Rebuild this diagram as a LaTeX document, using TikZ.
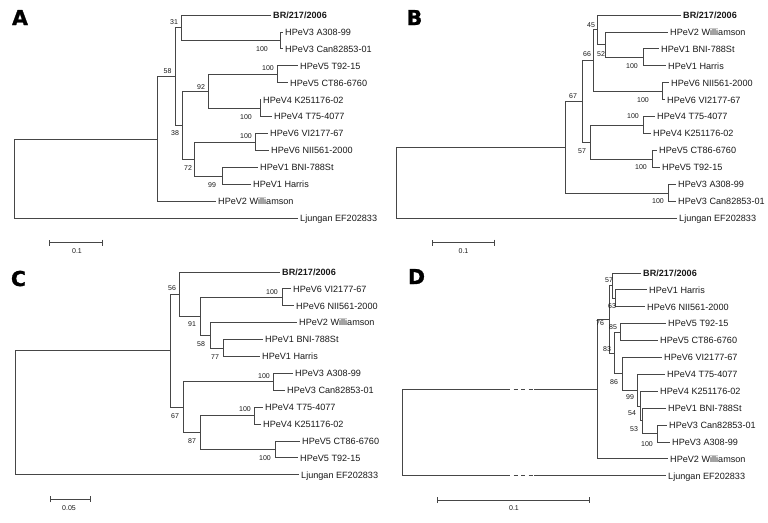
\documentclass[tikz,border=0pt]{standalone}
\usepackage{fontspec}
\setmainfont{Liberation Sans}
\newfontfamily\pfont{DejaVu Sans}[BoldFeatures={FakeBold=1.2}]
\usetikzlibrary{arrows.meta}
\definecolor{lc}{RGB}{70,70,70}
\definecolor{tc}{RGB}{25,25,25}
\newcommand\tipnode[4]{\coordinate (#1) at ({#2-2.5},#3); \node[tiplab] (#1t) at (#2,#3) {#4};}
\begin{document}
\begin{tikzpicture}[x=1pt,y=-1pt,
  br/.style={draw=lc,line width=0.9pt},
  tiplab/.style={anchor=west,inner sep=0pt,text=tc,font=\fontsize{9.1}{10}\selectfont,text height=6.5pt,text depth=0pt},
  bslab/.style={inner sep=0pt,text=tc,font=\fontsize{7}{8}\selectfont,text height=5pt,text depth=0pt},
  plab/.style={inner sep=0pt,text=black,font=\pfont\bfseries\fontsize{20.5}{21}\selectfont,text height=15pt,text depth=0pt},
  sbar/.style={draw=lc,line width=0.9pt,{Bar[width=6pt]}-{Bar[width=6pt]}},
  gapd/.style={draw=lc,line width=0.9pt,dash pattern=on 4pt off 3.5pt}]
\useasboundingbox (0,0) rectangle (768,522);
\fill[white] (0,0) rectangle (768,522);

% ================= Panel A =================
\node[plab] (pA) at (20,17.5) {A};
\tipnode{aBR}{273}{15}{\textbf{BR/217/2006}}
\tipnode{aA308}{285}{32}{HPeV3 A308-99}
\tipnode{aCan}{285}{48.9}{HPeV3 Can82853-01}
\tipnode{aT92}{300}{65.9}{HPeV5 T92-15}
\tipnode{aCT86}{290}{82.8}{HPeV5 CT86-6760}
\tipnode{aK25}{263}{99.8}{HPeV4 K251176-02}
\tipnode{aT75}{274}{116.7}{HPeV4 T75-4077}
\tipnode{aVI}{270}{133.7}{HPeV6 VI2177-67}
\tipnode{aNII}{271}{150.6}{HPeV6 NII561-2000}
\tipnode{aBNI}{260}{167.6}{HPeV1 BNI-788St}
\tipnode{aHar}{253}{184.5}{HPeV1 Harris}
\tipnode{aWil}{218}{201.5}{HPeV2 Williamson}
\tipnode{aLj}{300}{218.4}{Ljungan EF202833}
\coordinate (a3) at (280,40.45);
\coordinate (a5) at (277,74.35);
\coordinate (a4) at (260,108.25);
\coordinate (a6) at (255,142.15);
\coordinate (a1) at (222,176.05);
\coordinate (a92) at (208,91.3);
\coordinate (a72) at (194,159.1);
\coordinate (a38) at (182,125.2);
\coordinate (a31) at (181,27.7);
\coordinate (a58) at (175,76.45);
\coordinate (aI) at (157,139);
\coordinate (aR) at (14,178.7);
\draw[br] (aR) |- (aI); \draw[br] (aR) |- (aLj);
\draw[br] (aI) |- (a58); \draw[br] (aI) |- (aWil);
\draw[br] (a58) |- (a31); \draw[br] (a58) |- (a38);
\draw[br] (a31) |- (aBR); \draw[br] (a31) |- (a3);
\draw[br] (a3) |- (aA308); \draw[br] (a3) |- (aCan);
\draw[br] (a38) |- (a92); \draw[br] (a38) |- (a72);
\draw[br] (a92) |- (a5); \draw[br] (a92) |- (a4);
\draw[br] (a5) |- (aT92); \draw[br] (a5) |- (aCT86);
\draw[br] (a4) |- (aK25); \draw[br] (a4) |- (aT75);
\draw[br] (a72) |- (a6); \draw[br] (a72) |- (a1);
\draw[br] (a6) |- (aVI); \draw[br] (a6) |- (aNII);
\draw[br] (a1) |- (aBNI); \draw[br] (a1) |- (aHar);
\node[bslab] (ab31) at (174,22) {31};
\node[bslab] (ab58) at (167.5,71) {58};
\node[bslab] (ab38) at (175,133) {38};
\node[bslab] (ab72) at (188,168) {72};
\node[bslab] (ab92) at (201,87) {92};
\node[bslab] (ab3) at (262,49) {100};
\node[bslab] (ab5) at (268,68) {100};
\node[bslab] (ab4) at (246,117) {100};
\node[bslab] (ab6) at (246,136) {100};
\node[bslab] (ab1) at (212,184.5) {99};
\coordinate (sA1) at (49,242.7); \coordinate (sA2) at (103,242.7);
\draw[sbar] (sA1) -- (sA2);
\node[bslab] (sAl) at (77,250.5) {0.1};

% ================= Panel B =================
\node[plab] (pB) at (414.5,17.5) {B};
\tipnode{bBR}{683}{15}{\textbf{BR/217/2006}}
\tipnode{bWil}{670}{32}{HPeV2 Williamson}
\tipnode{bBNI}{661}{48.9}{HPeV1 BNI-788St}
\tipnode{bHar}{668}{65.9}{HPeV1 Harris}
\tipnode{bNII}{671}{82.8}{HPeV6 NII561-2000}
\tipnode{bVI}{667}{99.8}{HPeV6 VI2177-67}
\tipnode{bT75}{657}{116.7}{HPeV4 T75-4077}
\tipnode{bK25}{653}{133.7}{HPeV4 K251176-02}
\tipnode{bCT86}{659}{150.6}{HPeV5 CT86-6760}
\tipnode{bT92}{662}{167.6}{HPeV5 T92-15}
\tipnode{bA308}{678}{184.5}{HPeV3 A308-99}
\tipnode{bCan}{678}{201.5}{HPeV3 Can82853-01}
\tipnode{bLj}{679}{218.4}{Ljungan EF202833}
\coordinate (b1) at (643,57.4);
\coordinate (b52) at (605,44.7);
\coordinate (b45) at (597,29.85);
\coordinate (b6) at (662,91.3);
\coordinate (b66) at (593,60.6);
\coordinate (b4) at (643,125.2);
\coordinate (b5) at (652,159.1);
\coordinate (b57) at (590,142.15);
\coordinate (b67) at (582,101.4);
\coordinate (b3) at (668,193);
\coordinate (bI) at (565,147.2);
\coordinate (bR) at (396,182.8);
\draw[br] (bR) |- (bI); \draw[br] (bR) |- (bLj);
\draw[br] (bI) |- (b67); \draw[br] (bI) |- (b3);
\draw[br] (b67) |- (b66); \draw[br] (b67) |- (b57);
\draw[br] (b66) |- (b45); \draw[br] (b66) |- (b6);
\draw[br] (b45) |- (bBR); \draw[br] (b45) |- (b52);
\draw[br] (b52) |- (bWil); \draw[br] (b52) |- (b1);
\draw[br] (b1) |- (bBNI); \draw[br] (b1) |- (bHar);
\draw[br] (b6) |- (bNII); \draw[br] (b6) |- (bVI);
\draw[br] (b57) |- (b4); \draw[br] (b57) |- (b5);
\draw[br] (b4) |- (bT75); \draw[br] (b4) |- (bK25);
\draw[br] (b5) |- (bCT86); \draw[br] (b5) |- (bT92);
\draw[br] (b3) |- (bA308); \draw[br] (b3) |- (bCan);
\node[bslab] (bb45) at (591,25) {45};
\node[bslab] (bb66) at (587,54) {66};
\node[bslab] (bb52) at (601,54) {52};
\node[bslab] (bb67) at (573,96) {67};
\node[bslab] (bb1) at (632,66) {100};
\node[bslab] (bb6) at (643,100) {100};
\node[bslab] (bb4) at (633,116) {100};
\node[bslab] (bb57) at (582,151) {57};
\node[bslab] (bb5) at (641,167) {100};
\node[bslab] (bb3) at (658,201) {100};
\coordinate (sB1) at (432,242.7); \coordinate (sB2) at (495,242.7);
\draw[sbar] (sB1) -- (sB2);
\node[bslab] (sBl) at (463.5,250.5) {0.1};

% ================= Panel C =================
\node[plab] (pC) at (18.5,278.5) {C};
\tipnode{cBR}{282}{272}{\textbf{BR/217/2006}}
\tipnode{cVI}{293}{288.9}{HPeV6 VI2177-67}
\tipnode{cNII}{296}{305.8}{HPeV6 NII561-2000}
\tipnode{cWil}{299}{322.7}{HPeV2 Williamson}
\tipnode{cBNI}{265}{339.6}{HPeV1 BNI-788St}
\tipnode{cHar}{262}{356.5}{HPeV1 Harris}
\tipnode{cA308}{295}{373.4}{HPeV3 A308-99}
\tipnode{cCan}{287}{390.3}{HPeV3 Can82853-01}
\tipnode{cT75}{265}{407.2}{HPeV4 T75-4077}
\tipnode{cK25}{263}{424.1}{HPeV4 K251176-02}
\tipnode{cCT86}{302}{441}{HPeV5 CT86-6760}
\tipnode{cT92}{300}{457.9}{HPeV5 T92-15}
\tipnode{cLj}{301}{474.8}{Ljungan EF202833}
\coordinate (c6) at (282,297.35);
\coordinate (c77) at (223,348.05);
\coordinate (c58) at (210,335.4);
\coordinate (c91) at (200,316.4);
\coordinate (c56) at (179,294.2);
\coordinate (c3) at (273,381.85);
\coordinate (c4) at (254,415.65);
\coordinate (c5) at (275,449.45);
\coordinate (c87) at (200,432.55);
\coordinate (c67) at (183,407.2);
\coordinate (cI) at (170,350.7);
\coordinate (cR) at (15,412.75);
\draw[br] (cR) |- (cI); \draw[br] (cR) |- (cLj);
\draw[br] (cI) |- (c56); \draw[br] (cI) |- (c67);
\draw[br] (c56) |- (cBR); \draw[br] (c56) |- (c91);
\draw[br] (c91) |- (c6); \draw[br] (c91) |- (c58);
\draw[br] (c6) |- (cVI); \draw[br] (c6) |- (cNII);
\draw[br] (c58) |- (cWil); \draw[br] (c58) |- (c77);
\draw[br] (c77) |- (cBNI); \draw[br] (c77) |- (cHar);
\draw[br] (c67) |- (c3); \draw[br] (c67) |- (c87);
\draw[br] (c3) |- (cA308); \draw[br] (c3) |- (cCan);
\draw[br] (c87) |- (c4); \draw[br] (c87) |- (c5);
\draw[br] (c4) |- (cT75); \draw[br] (c4) |- (cK25);
\draw[br] (c5) |- (cCT86); \draw[br] (c5) |- (cT92);
\node[bslab] (cb56) at (172,288) {56};
\node[bslab] (cb91) at (192,324) {91};
\node[bslab] (cb6) at (272,292) {100};
\node[bslab] (cb58) at (201,344) {58};
\node[bslab] (cb77) at (215,357) {77};
\node[bslab] (cb3) at (264,376) {100};
\node[bslab] (cb67) at (175,416) {67};
\node[bslab] (cb87) at (192,441) {87};
\node[bslab] (cb4) at (245,409) {100};
\node[bslab] (cb5) at (265,458) {100};
\coordinate (sC1) at (50,499.3); \coordinate (sC2) at (91,499.3);
\draw[sbar] (sC1) -- (sC2);
\node[bslab] (sCl) at (69,507.5) {0.05};

% ================= Panel D =================
\node[plab] (pD) at (416.5,276.5) {D};
\tipnode{dBR}{643}{273}{\textbf{BR/217/2006}}
\tipnode{dHar}{649}{289.9}{HPeV1 Harris}
\tipnode{dNII}{647}{306.8}{HPeV6 NII561-2000}
\tipnode{dT92}{668}{323.7}{HPeV5 T92-15}
\tipnode{dCT86}{660}{340.6}{HPeV5 CT86-6760}
\tipnode{dVI}{664}{357.5}{HPeV6 VI2177-67}
\tipnode{dT75}{667}{374.4}{HPeV4 T75-4077}
\tipnode{dK25}{660}{391.3}{HPeV4 K251176-02}
\tipnode{dBNI}{668}{408.2}{HPeV1 BNI-788St}
\tipnode{dCan}{669}{425.1}{HPeV3 Can82853-01}
\tipnode{dA308}{672}{442}{HPeV3 A308-99}
\tipnode{dWil}{670}{458.9}{HPeV2 Williamson}
\tipnode{dLj}{668}{475.8}{Ljungan EF202833}
\coordinate (d63) at (615,298.35);
\coordinate (d57) at (612,285.7);
\coordinate (d85) at (620,332.15);
\coordinate (d3) at (657,433.55);
\coordinate (d53) at (642,420.9);
\coordinate (d54) at (640,406.1);
\coordinate (d99) at (637,390.25);
\coordinate (d86) at (622,373.9);
\coordinate (d83) at (614,353);
\coordinate (d76) at (609,319.35);
\coordinate (dI) at (597,389.1);
\coordinate (dR) at (402,432.45);
\coordinate (dg1) at (506,389.1); \coordinate (dg2) at (534,389.1);
\coordinate (dg3) at (506,475.8); \coordinate (dg4) at (534,475.8);
\draw[br] (dR) |- (dg1); \draw[gapd] (dg1) -- (dg2); \draw[br] (dg2) -- (dI);
\draw[br] (dR) |- (dg3); \draw[gapd] (dg3) -- (dg4); \draw[br] (dg4) -- (dLj);
\draw[br] (dI) |- (d76); \draw[br] (dI) |- (dWil);
\draw[br] (d76) |- (d57); \draw[br] (d76) |- (d83);
\draw[br] (d57) |- (dBR); \draw[br] (d57) |- (d63);
\draw[br] (d63) |- (dHar); \draw[br] (d63) |- (dNII);
\draw[br] (d83) |- (d85); \draw[br] (d83) |- (d86);
\draw[br] (d85) |- (dT92); \draw[br] (d85) |- (dCT86);
\draw[br] (d86) |- (dVI); \draw[br] (d86) |- (d99);
\draw[br] (d99) |- (dT75); \draw[br] (d99) |- (d54);
\draw[br] (d54) |- (dK25); \draw[br] (d54) |- (d53);
\draw[br] (d53) |- (dBNI); \draw[br] (d53) |- (d3);
\draw[br] (d3) |- (dCan); \draw[br] (d3) |- (dA308);
\node[bslab] (db57) at (609,280) {57};
\node[bslab] (db63) at (612,306) {63};
\node[bslab] (db76) at (600,323) {76};
\node[bslab] (db85) at (613,327) {85};
\node[bslab] (db83) at (607,349) {83};
\node[bslab] (db86) at (614,382) {86};
\node[bslab] (db99) at (630,397) {99};
\node[bslab] (db54) at (632,413) {54};
\node[bslab] (db53) at (634,429) {53};
\node[bslab] (db3) at (647,444) {100};
\coordinate (sD1) at (437,500); \coordinate (sD2) at (590,500);
\draw[sbar] (sD1) -- (sD2);
\node[bslab] (sDl) at (514,508) {0.1};
\end{tikzpicture}
\end{document}
